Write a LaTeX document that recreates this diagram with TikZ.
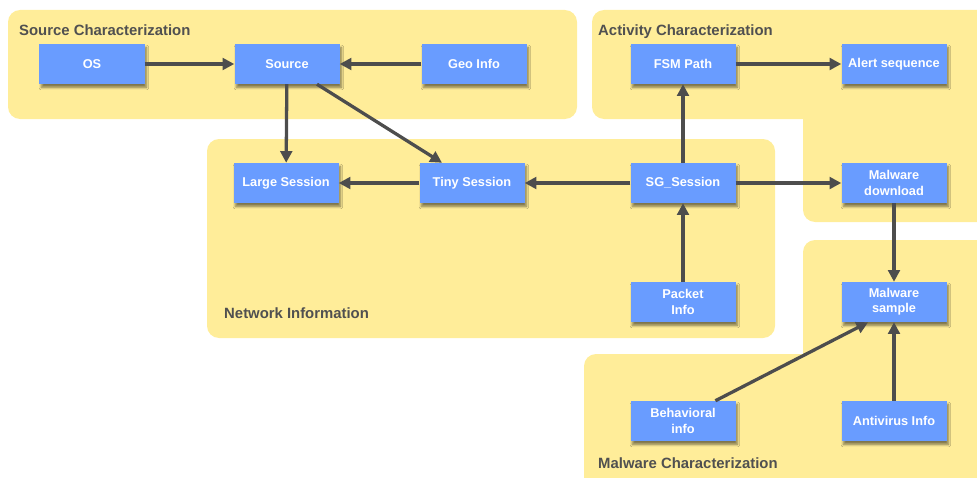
\documentclass[tikz,border=0pt]{standalone}
\usepackage{fontspec}
\setmainfont{Liberation Sans}
\usetikzlibrary{arrows.meta,shadows.blur}
\definecolor{regionyellow}{RGB}{255,237,153}
\definecolor{boxblue}{RGB}{105,156,255}
\definecolor{linegray}{RGB}{77,77,77}
\definecolor{titlegray}{RGB}{80,80,80}

\begin{document}
\begin{tikzpicture}[x=0.03cm, y=-0.03cm,
    box/.style={rectangle, fill=boxblue, text=white, font=\fontsize{10.9}{13}\selectfont\bfseries,
        align=center, minimum width=3.15cm, minimum height=1.2cm, inner sep=1pt,
        blur shadow={shadow xshift=1.6pt, shadow yshift=-3pt, shadow blur radius=2pt,
            shadow blur steps=6, shadow opacity=50}},
    title/.style={anchor=base west, text=titlegray, font=\fontsize{12.7}{15}\selectfont\bfseries, inner sep=0pt},
    region/.style={fill=regionyellow, rounded corners=0.36cm},
    link/.style={draw=linegray, line width=2.8pt, -{Triangle[length=10pt,width=10pt]}}]

        \useasboundingbox (0,0) rectangle (977,478);
        \clip (0,0) rectangle (977,478);

        % Zone
        \fill[region] (8,10) rectangle (577,119);
        \fill[region] (592,10) rectangle (1000,119);
        \fill[region] (803,90) rectangle (1000,222);
        \fill[region] (207,139) rectangle (775,338);
        \fill[region] (803,240) rectangle (1000,400);
        \fill[region] (584,354) rectangle (1000,500);

        \node[title] (srctitle) at (19,35.5) {Source Characterization};
        \node[title] (acttitle) at (598,35.5) {Activity Characterization};
        \node[title] (nettitle) at (224,318.5) {Network Information};
        \node[title] (maltitle) at (598,468.5) {Malware Characterization};

        % Posizioni dei nodi
        \node[box] (os) at (92,64) {OS};
        \node[box] (source) at (287,64) {Source};
        \node[box] (geo) at (474,64) {Geo Info};
        \node[box] (fsm) at (683,64) {FSM Path};
        \node[box] (alert) at (894,64) {Alert sequence};
        \node[box] (large) at (286,183) {Large Session};
        \node[box] (tiny) at (472,183) {Tiny Session};
        \node[box] (sg) at (683,183) {SG\_Session};
        \node[box] (download) at (894,183) {Malware\\download};
        \node[box] (packet) at (683,302) {Packet\\Info};
        \node[box] (sample) at (894,302) {Malware\\sample};
        \node[box] (behav) at (683,421) {Behavioral\\info};
        \node[box] (antivirus) at (894,421) {Antivirus Info};

        % Archi
        \draw[link] (os) -- (source);
        \draw[link] (geo) -- (source);
        \draw[link] (source) -- (large);
        \draw[link] (source.-34) -- (tiny.146);
        \draw[link] (tiny) -- (large);
        \draw[link] (sg) -- (tiny);
        \draw[link] (sg) -- (fsm);
        \draw[link] (sg) -- (download);
        \draw[link] (packet) -- (sg);
        \draw[link] (fsm) -- (alert);
        \draw[link] (download) -- (sample);
        \draw[link] (behav.32) -- (sample.218);
        \draw[link] (antivirus) -- (sample);
    \end{tikzpicture}
\end{document}
